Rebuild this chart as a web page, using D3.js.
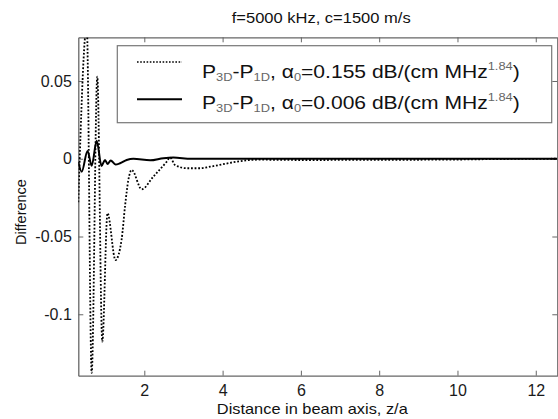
<!DOCTYPE html>
<html>
<head>
<meta charset="utf-8">
<script src="https://cdn.jsdelivr.net/npm/d3@7"></script>
<style>
  body { margin: 0; background: #fff; }
  svg { display: block; }
  text { font-family: Arial, "Liberation Sans", Helvetica, sans-serif; }
</style>
</head>
<body>
<svg id="chart" width="558" height="419"></svg>
<script>
// ---- data ----
const titleText = "f=5000 kHz, c=1500 m/s";
const xLabelText = "Distance in beam axis, z/a";
const yLabelText = "Difference";

const xTicks = [2, 4, 6, 8, 10, 12];
const yTicks = [-0.1, -0.05, 0, 0.05];
const yTickLabels = ["-0.1", "-0.05", "0", "0.05"];

// P3D - P1D, alpha0 = 0.155 dB/(cm MHz^1.84)  (dotted)
const zHigh = [0.314, 0.53, 0.656, 0.799, 0.927, 1.06, 1.264, 1.42, 1.51, 1.59, 1.678,
               1.934, 2.23, 2.572, 2.66, 2.785, 3.084, 3.42, 3.68, 4.36, 4.7, 4.96,
               6, 8, 10, 11, 12.55];
const diffHigh = [-0.028, 0.085, -0.1377, 0.0528, -0.1176, -0.035, -0.0651, -0.052, -0.030, -0.014, -0.0072,
                  -0.0196, -0.0115, -0.0019, 0.0008, -0.004, -0.0061, -0.0061, -0.0051, -0.0019, -0.0008, -0.0006,
                  -0.0008, -0.0007, -0.0005, -0.0002, 0];

// P3D - P1D, alpha0 = 0.006 dB/(cm MHz^1.84)  (solid)
const zLow = [0.314, 0.401, 0.55, 0.656, 0.784, 0.907, 0.996, 1.06, 1.142, 1.264, 1.38,
              1.55, 1.72, 2.15, 2.49, 2.74, 3.2, 12.55];
const diffLow = [-0.002, -0.0083, 0.005, -0.0045, 0.0115, -0.0046, -0.0008, -0.0033, -0.0011, -0.0037, -0.0029,
                 -0.0008, 0, -0.0010, 0.0004, 0.0008, 0, 0];

const legendLabels = [
  { alpha: "0.155", style: "dotted" },
  { alpha: "0.006", style: "solid" }
];

// ---- layout ----
const W = 558, H = 419;
const plot = { left: 78.3, right: 557.3, top: 37.3, bottom: 375.7 };
const axisColor = "#666";

const svg = d3.select("#chart");
svg.append("rect").attr("width", W).attr("height", H).attr("fill", "#fff");

const x = d3.scaleLinear().domain([0.314, 12.55]).range([plot.left, plot.right]);
const y = d3.scaleLinear().domain([-0.1395, 0.0781]).range([plot.bottom, plot.top]);

// stretch a text node horizontally to a given width
function fitWidth(textSel, target) {
  const w = textSel.node().getComputedTextLength();
  return w > 0 ? target / w : 1;
}

// ---- axes (inward ticks on all four sides) ----
function styleAxis(g) {
  g.selectAll(".domain").attr("stroke", axisColor).attr("stroke-width", 1.3);
  g.selectAll(".tick line").attr("stroke", axisColor).attr("stroke-width", 1);
  g.selectAll(".tick text").attr("fill", "#1a1a1a").attr("font-size", 16)
    .attr("font-family", "Arial, 'Liberation Sans', sans-serif");
}

svg.append("g")
  .attr("transform", `translate(0,${plot.bottom})`)
  .call(d3.axisBottom(x).tickValues(xTicks).tickSizeInner(-5).tickSizeOuter(0)
        .tickPadding(8.5).tickFormat(d3.format("d")))
  .call(styleAxis);

svg.append("g")
  .attr("transform", `translate(0,${plot.top})`)
  .call(d3.axisTop(x).tickValues(xTicks).tickSizeInner(-5).tickSizeOuter(0).tickFormat(""))
  .call(styleAxis);

svg.append("g")
  .attr("transform", `translate(${plot.left},0)`)
  .call(d3.axisLeft(y).tickValues(yTicks).tickSizeInner(-5).tickSizeOuter(0)
        .tickPadding(6.5).tickFormat((d, i) => yTickLabels[i]))
  .call(styleAxis);

svg.append("g")
  .attr("transform", `translate(${plot.right},0)`)
  .call(d3.axisRight(y).tickValues(yTicks).tickSizeInner(-5).tickSizeOuter(0).tickFormat(""))
  .call(styleAxis);

// ---- curves ----
svg.append("clipPath").attr("id", "plotClip")
  .append("rect")
  .attr("x", plot.left).attr("y", plot.top)
  .attr("width", plot.right - plot.left).attr("height", plot.bottom - plot.top);

const line = d3.line()
  .x(d => x(d[0]))
  .y(d => y(d[1]))
  .curve(d3.curveMonotoneX);

const curves = svg.append("g").attr("clip-path", "url(#plotClip)");

curves.append("path")
  .datum(zLow.map((z, i) => [z, diffLow[i]]))
  .attr("fill", "none")
  .attr("stroke", "#000")
  .attr("stroke-width", 2)
  .attr("stroke-linejoin", "round")
  .attr("d", line);

curves.append("path")
  .datum(zHigh.map((z, i) => [z, diffHigh[i]]))
  .attr("fill", "none")
  .attr("stroke", "#000")
  .attr("stroke-width", 1.8)
  .attr("stroke-dasharray", "1.8,1.8")
  .attr("d", line);

// ---- title and axis labels ----
const title = svg.append("g");
const titleT = title.append("text")
  .attr("text-anchor", "middle")
  .attr("font-size", 14)
  .attr("fill", "#111")
  .text(titleText);
title.attr("transform", `translate(321.2,22.5) scale(${fitWidth(titleT, 179)},1)`);

const xLab = svg.append("g");
const xLabT = xLab.append("text")
  .attr("text-anchor", "middle")
  .attr("font-size", 15)
  .attr("fill", "#111")
  .text(xLabelText);
xLab.attr("transform", `translate(312.3,414) scale(${fitWidth(xLabT, 191)},1)`);

svg.append("text")
  .attr("text-anchor", "middle")
  .attr("font-size", 14.5)
  .attr("fill", "#111")
  .attr("transform", "translate(26,212) rotate(-90)")
  .text(yLabelText);

// ---- legend ----
const legend = svg.append("g");
legend.append("rect")
  .attr("x", 117.3).attr("y", 45.7)
  .attr("width", 434.4).attr("height", 77)
  .attr("fill", "#fff")
  .attr("stroke", "#777")
  .attr("stroke-width", 1.2);

const legendRows = [
  { lineY: 62, baseY: 77.5 },
  { lineY: 99.3, baseY: 108.5 }
];

legendLabels.forEach((item, i) => {
  const row = legendRows[i];
  const ln = legend.append("line")
    .attr("x1", 137).attr("x2", 182)
    .attr("y1", row.lineY).attr("y2", row.lineY)
    .attr("stroke", "#000");
  if (item.style === "dotted") {
    ln.attr("stroke-width", 1.6).attr("stroke-dasharray", "1.6,1.6");
  } else {
    ln.attr("stroke-width", 2);
  }

  const g = legend.append("g");
  const t = g.append("text").attr("font-size", 18).attr("fill", "#111");
  const subFill = "#666";
  t.append("tspan").text("P");
  t.append("tspan").attr("font-size", 11).attr("dy", 3).attr("fill", subFill).text("3D");
  t.append("tspan").attr("dy", -3).text("-P");
  t.append("tspan").attr("font-size", 11).attr("dy", 3).attr("fill", subFill).text("1D");
  t.append("tspan").attr("dy", -3).text(", α");
  t.append("tspan").attr("font-size", 11).attr("dy", 3).attr("fill", subFill).text("0");
  t.append("tspan").attr("dy", -3).text("=" + item.alpha + " dB/(cm MHz");
  t.append("tspan").attr("font-size", 11).attr("dy", -8).attr("fill", subFill).text("1.84");
  t.append("tspan").attr("dy", 8).text(")");
  g.attr("transform", `translate(202,${row.baseY}) scale(${fitWidth(t, 318)},1)`);
});
</script>
</body>
</html>
